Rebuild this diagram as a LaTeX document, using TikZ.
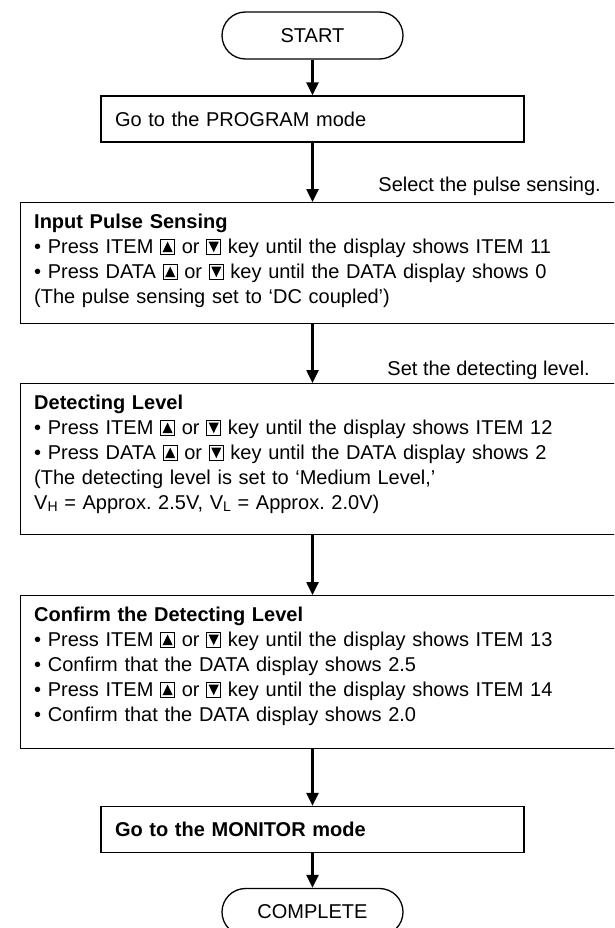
\documentclass[tikz,border=0pt]{standalone}
\usepackage{fontspec}
\setmainfont{Liberation Sans}
\usetikzlibrary{arrows.meta,shapes.misc}
\frenchspacing
\newcommand{\keyup}{\tikz[baseline=0pt,x=1pt,y=1pt]{\draw[line width=0.9pt,fill=white] (0.45,-0.5) rectangle (14.55,14.1); \fill[black] (2.4,1.5) -- (12.6,1.5) -- (7.5,12.1) -- cycle;}}
\newcommand{\keydown}{\tikz[baseline=0pt,x=1pt,y=1pt]{\draw[line width=0.9pt,fill=white] (0.45,-0.5) rectangle (14.55,14.1); \fill[black] (2.4,12.1) -- (12.6,12.1) -- (7.5,1.5) -- cycle;}}
\newcommand{\subl}[1]{\raisebox{-1.5pt}{\fontsize{14}{14}\selectfont #1}}
\tikzset{
  every node/.style={font=\fontsize{20}{25}\selectfont},
  term/.style={draw, line width=1.3pt, rounded rectangle, minimum width=181pt, minimum height=47pt, inner sep=0pt},
  smallbox/.style={draw, line width=1.3pt, minimum width=423pt, minimum height=46pt, text width=395pt, inner xsep=14pt, inner ysep=0pt, align=left},
  bigbox/.style={draw, line width=1.3pt, anchor=north west, inner sep=0pt},
  bigtext/.style={anchor=north west, align=left, inner sep=0pt, text width=590pt},
  lbl/.style={anchor=base east, inner sep=0pt},
  arr/.style={line width=2.5pt, -{Triangle[length=13pt,width=12pt]}}
}
\begin{document}
\begin{tikzpicture}[x=1pt,y=-1pt]
\useasboundingbox (0,0) rectangle (614,928);
\clip (0,0) rectangle (614,928);

\node[term] (start) at (312.5,35.5) {START};
\node[smallbox] (prog) at (312.5,119) {Go to the PROGRAM mode};

\node[bigbox, minimum width=640pt, minimum height=121pt] (input) at (20,202) {};
\node[bigtext] (inputtxt) at (34,214) {\textbf{Input Pulse Sensing}\\
• Press ITEM \keyup{} or \keydown{} key until the display shows ITEM 11\\
• Press DATA \keyup{} or \keydown{} key until the DATA display shows 0\\
(The pulse sensing set to ‘DC coupled’)};
\node[lbl] (lbl1) at (601,192) {Select the pulse sensing.};

\node[bigbox, minimum width=640pt, minimum height=151pt] (detect) at (20,383) {};
\node[bigtext] (detecttxt) at (34,395) {\textbf{Detecting Level}\\
• Press ITEM \keyup{} or \keydown{} key until the display shows ITEM 12\\
• Press DATA \keyup{} or \keydown{} key until the DATA display shows 2\\
(The detecting level is set to ‘Medium Level,’\\
V\subl{H} = Approx. 2.5V, V\subl{L} = Approx. 2.0V)};
\node[lbl] (lbl2) at (590,375) {Set the detecting level.};

\node[bigbox, minimum width=640pt, minimum height=153pt] (confirm) at (20,595) {};
\node[bigtext] (confirmtxt) at (34,607) {\textbf{Confirm the Detecting Level}\\
• Press ITEM \keyup{} or \keydown{} key until the display shows ITEM 13\\
• Confirm that the DATA display shows 2.5\\
• Press ITEM \keyup{} or \keydown{} key until the display shows ITEM 14\\
• Confirm that the DATA display shows 2.0};

\node[smallbox] (monitor) at (312.5,829.5) {\textbf{Go to the MONITOR mode}};
\node[term] (complete) at (312.5,912) {COMPLETE};

\draw[arr] (start.south) -- (prog.north);
\draw[arr] (prog.south) -- (prog.south |- input.north);
\draw[arr] (prog.south |- input.south) -- (prog.south |- detect.north);
\draw[arr] (prog.south |- detect.south) -- (prog.south |- confirm.north);
\draw[arr] (prog.south |- confirm.south) -- (monitor.north);
\draw[arr] (monitor.south) -- (complete.north);
\end{tikzpicture}
\end{document}
